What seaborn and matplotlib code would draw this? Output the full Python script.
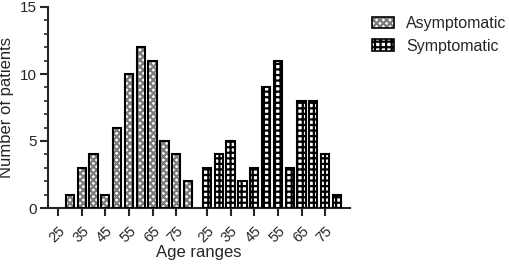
import pandas as pd
import matplotlib
matplotlib.use("Agg")
import matplotlib.pyplot as plt
from matplotlib.patches import Patch, Rectangle
from matplotlib.ticker import MultipleLocator
import seaborn as sns

# age ranges (5-year bins); tick labels every 10 years
ages = [25, 30, 35, 40, 45, 50, 55, 60, 65, 70, 75, 80]
asymptomatic = [0, 1, 3, 4, 1, 6, 10, 12, 11, 5, 4, 2]
symptomatic = [3, 4, 5, 2, 3, 9, 11, 3, 8, 8, 4, 1]
tick_ages = [25, 35, 45, 55, 65, 75]
groups = ["Asymptomatic", "Symptomatic"]
hatches = ["xxxxx", "+++"]
hatch_colors = ["#7c7c7c", "black"]

group_offset = 12.6  # slots between group starts

sns.set_style("ticks")
plt.rcParams["font.family"] = ["Liberation Sans", "DejaVu Sans"]
plt.rcParams["hatch.linewidth"] = 1.6

rows = []
for g, vals in zip(groups, [asymptomatic, symptomatic]):
    off = 0 if g == groups[0] else group_offset
    for a, v in zip(ages, vals):
        rows.append({"group": g, "age": a, "pos": (a - 25) / 5 + off, "n": v})
df = pd.DataFrame(rows)

fig = plt.figure(figsize=(5.1, 2.64), dpi=100)
ax = fig.add_axes([48 / 510, 1 - 208 / 264, (350 - 48) / 510, (208 - 7) / 264])

sns.barplot(data=df, x="pos", y="n", hue="group", hue_order=groups,
            native_scale=True, width=0.7, dodge=False, legend=False,
            palette=["white", "white"], edgecolor="black", linewidth=1.5, ax=ax)

# hatch colour follows edge colour, so draw black outlines on top separately
for p in list(ax.patches):
    x = p.get_x() + p.get_width() / 2
    i = 0 if x < group_offset - 0.5 else 1
    p.set_facecolor("white")
    p.set_hatch(hatches[i])
    p.set_edgecolor(hatch_colors[i])
    p.set_linewidth(0)
    if p.get_height() > 0:
        ax.add_patch(Rectangle(p.get_xy(), p.get_width(), p.get_height(),
                               fill=False, edgecolor="black", linewidth=1.5, zorder=3))

tick_pos = [(a - 25) / 5 for a in tick_ages] + [(a - 25) / 5 + group_offset for a in tick_ages]
ax.set_xticks(tick_pos)
ax.set_xticklabels([str(a) for a in tick_ages] * 2, rotation=45, ha="right",
                   va="top", rotation_mode="anchor", fontsize=10.5)
ax.set_xlim(-0.85, group_offset + 11 + 1.1)
ax.set_ylim(0, 15)
ax.yaxis.set_major_locator(MultipleLocator(5))
ax.yaxis.set_minor_locator(MultipleLocator(1))
ax.tick_params(axis="y", labelsize=11, width=1.5, length=6, pad=2)
ax.tick_params(axis="y", which="minor", width=1.2, length=3)
ax.tick_params(axis="x", width=1.5, length=6, pad=5)
ax.set_xlabel("Age ranges", fontsize=12, labelpad=0)
ax.set_ylabel("Number of patients", fontsize=12, labelpad=4)
sns.despine(ax=ax)
for s in ["left", "bottom"]:
    ax.spines[s].set_linewidth(1.5)

handles = [(Patch(facecolor="white", edgecolor=hatch_colors[i], hatch=hatches[i], linewidth=0),
            Patch(fill=False, edgecolor="black", linewidth=1.2)) for i in range(2)]
fig.legend(handles, groups, loc="upper left", bbox_to_anchor=(366 / 510, 1 - 10 / 264),
           frameon=False, fontsize=11.5, handlelength=1.35, handleheight=0.7,
           handletextpad=0.75, labelspacing=0.45, borderaxespad=0)

fig.savefig("out.png", dpi=100)
